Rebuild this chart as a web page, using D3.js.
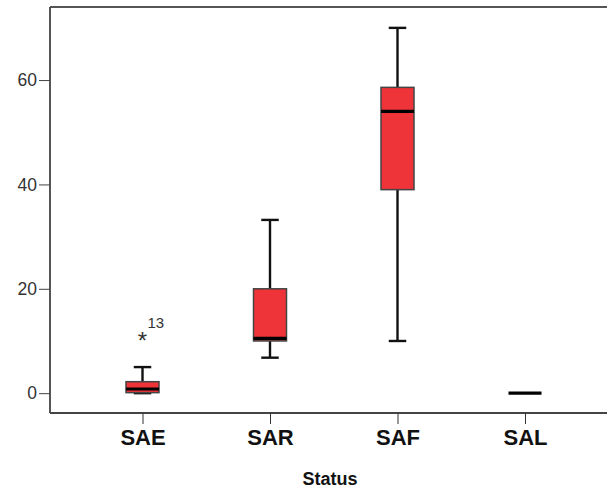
<!DOCTYPE html>
<html><head><meta charset="utf-8">
<script src="https://cdn.jsdelivr.net/npm/d3@7"></script>
<style>body{margin:0;background:#fff;} svg{display:block;}</style>
</head><body>
<svg id="c" width="607" height="490"></svg>
<script>
const categories = ["SAE", "SAR", "SAF", "SAL"];
const whiskerLow = [0, 6.8, 10, 0];
const q1 = [0.1, 10, 39, 0];
const median = [0.8, 10.5, 54, 0];
const q3 = [2.2, 20, 58.6, 0];
const whiskerHigh = [5, 33.2, 70, 0];
const outliers = [{cat: "SAE", value: 11, label: "13"}];
const yTicks = [0, 20, 40, 60];
const xTitle = "Status";

(function () {
const svg = d3.select("#c");
const pl = 50, pt = 7, pb = 413, pr = 620;
const y = d3.scaleLinear().domain([-3.8, 74]).range([pb, pt]);
const x = d3.scalePoint().domain(categories).range([142.5, 525]);
const boxW = 33;
const font = "Arial, 'Liberation Sans', sans-serif";

// frame
svg.append("line").attr("x1", pl).attr("x2", pr).attr("y1", pt).attr("y2", pt)
  .attr("stroke", "#555").attr("stroke-width", 1.8);

const yAxis = svg.append("g").attr("transform", `translate(${pl},0)`)
  .call(d3.axisLeft(y).tickValues(yTicks).tickSize(11).tickPadding(2).tickFormat(d3.format("d")));
yAxis.select(".domain").attr("d", `M0,${pt}V${pb}`).attr("stroke", "#444").attr("stroke-width", 1.8);
yAxis.selectAll(".tick line").attr("stroke", "#444").attr("stroke-width", 1);
yAxis.selectAll(".tick text").attr("font-family", font)
  .attr("font-size", 17.5).attr("fill", "#333");

const xAxis = svg.append("g").attr("transform", `translate(0,${pb})`)
  .call(d3.axisBottom(x).tickSize(11).tickPadding(5));
xAxis.select(".domain").attr("d", `M${pl},0H${pr}`).attr("stroke", "#444").attr("stroke-width", 1.8);
xAxis.selectAll(".tick line").attr("stroke", "#333").attr("stroke-width", 1);
xAxis.selectAll(".tick text").attr("font-family", font)
  .attr("font-size", 22).attr("font-weight", "bold").attr("fill", "#111");

svg.append("text").attr("x", 330).attr("y", 485).attr("text-anchor", "middle")
  .attr("font-family", font).attr("font-size", 18)
  .attr("font-weight", "bold").attr("fill", "#111").text(xTitle);

const data = categories.map((c, i) => ({c, lo: whiskerLow[i], q1: q1[i], med: median[i], q3: q3[i], hi: whiskerHigh[i]}));
const g = svg.append("g");
data.forEach(d => {
  const cx = x(d.c);
  if (d.hi > d.lo) {
    g.append("line").attr("x1", cx).attr("x2", cx).attr("y1", y(d.q3)).attr("y2", y(d.hi)).attr("stroke", "#111").attr("stroke-width", 2.4);
    g.append("line").attr("x1", cx).attr("x2", cx).attr("y1", y(d.q1)).attr("y2", y(d.lo)).attr("stroke", "#111").attr("stroke-width", 2.4);
    g.append("line").attr("x1", cx - boxW / 4 - 0.5).attr("x2", cx + boxW / 4 + 0.5).attr("y1", y(d.hi)).attr("y2", y(d.hi)).attr("stroke", "#111").attr("stroke-width", 2.4);
    g.append("line").attr("x1", cx - boxW / 4 - 0.5).attr("x2", cx + boxW / 4 + 0.5).attr("y1", y(d.lo)).attr("y2", y(d.lo)).attr("stroke", "#111").attr("stroke-width", 2.4);
    g.append("rect").attr("x", cx - boxW / 2).attr("width", boxW).attr("y", y(d.q3)).attr("height", y(d.q1) - y(d.q3))
      .attr("fill", "#ee3339").attr("stroke", "#444").attr("stroke-width", 1.5);
  }
  g.append("line").attr("x1", cx - boxW / 2).attr("x2", cx + boxW / 2).attr("y1", y(d.med)).attr("y2", y(d.med))
    .attr("stroke", "#000").attr("stroke-width", 3.2);
});

outliers.forEach(o => {
  const cx = x(o.cat), cy = y(o.value);
  g.append("text").attr("x", cx).attr("y", cy + 13).attr("text-anchor", "middle")
    .attr("font-family", font).attr("font-size", 24).attr("fill", "#333").text("*");
  g.append("text").attr("x", cx + 5).attr("y", cy - 8)
    .attr("font-family", font).attr("font-size", 15).attr("fill", "#333").text(o.label);
});
})();
</script>
</body></html>
